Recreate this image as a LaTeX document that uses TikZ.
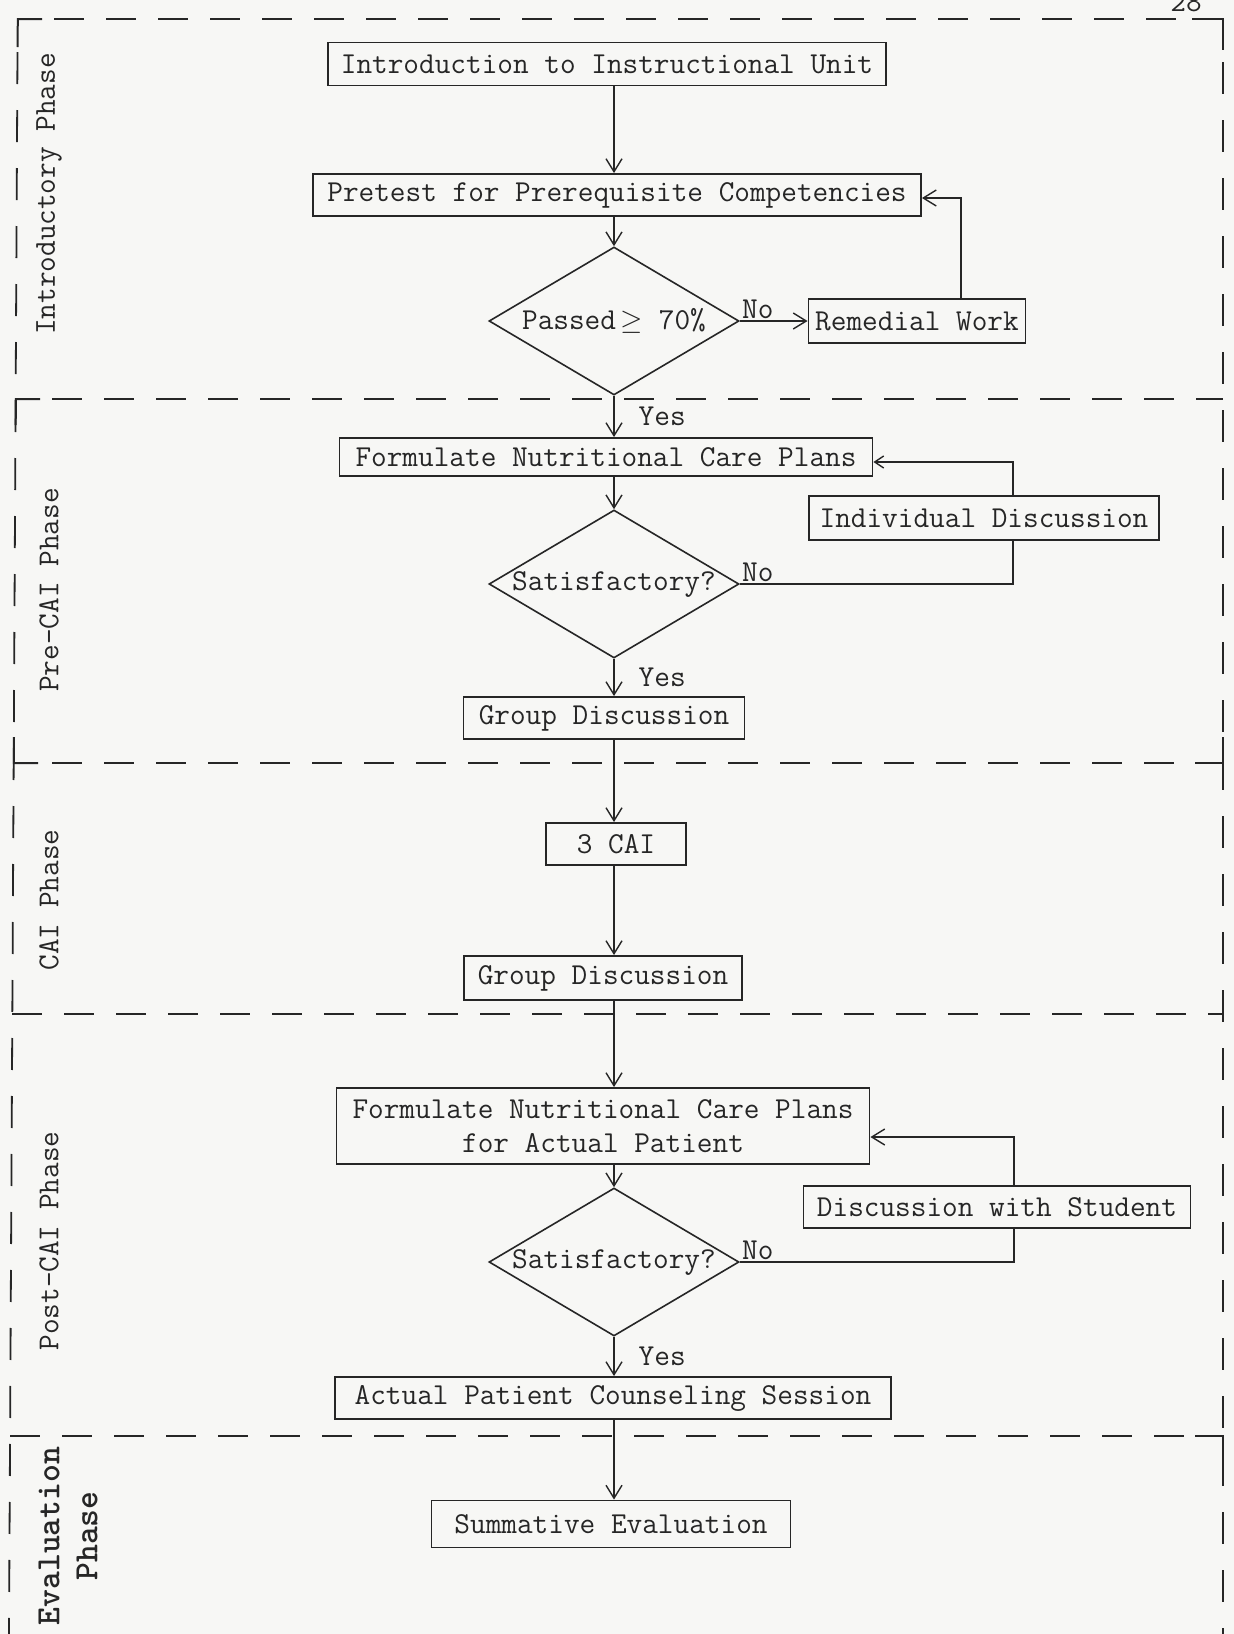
\documentclass[tikz,border=0pt]{standalone}
\usepackage{fontspec}
\usetikzlibrary{arrows.meta,shapes.geometric}
\definecolor{ink}{RGB}{38,38,38}
\definecolor{paper}{RGB}{247,247,245}
\begin{document}
\begin{tikzpicture}[x=0.5pt,y=-0.5pt,
 every node/.style={font=\fontsize{15.2}{17}\selectfont\ttfamily, text=ink},
 box/.style={draw=ink, line width=0.95pt, inner xsep=3pt, inner ysep=2pt, minimum height=21pt},
 dia/.style={draw=ink, line width=0.8pt, shape=diamond, aspect=1.7, inner sep=0pt, minimum width=125pt, minimum height=74pt},
 arr/.style={draw=ink, line width=0.7pt, -{Straight Barb[length=6.5pt,width=8pt]}},
 sarr/.style={draw=ink, line width=0.7pt, -{Straight Barb[length=4.5pt,width=6pt]}},
 conn/.style={draw=ink, line width=0.7pt},
 dsh/.style={draw=ink, line width=0.9pt, dash pattern=on 15pt off 11pt},
 vdsh/.style={draw=ink, line width=0.9pt, dash pattern=on 16pt off 13pt},
 crn/.style={draw=ink, line width=1pt},
 lbl/.style={inner sep=1pt},
 phase/.style={rotate=90}
]
\useasboundingbox (0,0) rectangle (1234,1634);
\fill[paper] (0,0) rectangle (1234,1634);

% frame (left edge slightly slanted, as in the scan)
\draw[vdsh] (17.5,52) -- (9,1634);
\draw[vdsh] (1223,62) -- (1223,1634);
\draw[dsh] (54,19) -- (1180,19);
\draw[dsh] (52,399) -- (1223,399);
\draw[dsh] (52,763) -- (1190,763);
\draw[dsh] (12.4,1014) -- (1223,1014);
\draw[dsh] (10.1,1436) -- (1190,1436);
\draw[crn] (17.6,47) -- (17.8,19) -- (42,19);
\draw[crn] (1192,19) -- (1223,19) -- (1223,50);
\draw[crn] (15.7,425) -- (15.9,399) -- (40,399);
\draw[crn] (14,737) -- (13.85,763) -- (38,763);
\draw[crn] (1195,763) -- (1223,763) -- (1223,737);
\draw[crn] (1195,1436) -- (1223,1436) -- (1223,1462);

\node (pg) at (1186,2) {28};

% phase labels
\node[phase] (ph1) at (49,194) {Introductory Phase};
\node[phase] (ph2) at (49,590) {Pre-CAI Phase};
\node[phase] (ph3) at (49,900) {CAI Phase};
\node[phase] (ph4) at (49,1241) {Post-CAI Phase};
\node[phase, align=center, font=\fontsize{17}{19}\selectfont\ttfamily\bfseries] (ph5) at (68,1536) {Evaluation\\Phase};

% axis and loop coordinates
\coordinate (ax) at (614,0);
\coordinate (lx1) at (961,0);
\coordinate (lx2) at (1013,0);
\coordinate (lx3) at (1014,0);

% nodes
\node[box, minimum width=279pt, minimum height=21.5pt] (intro) at (607,64) {Introduction to Instructional Unit};
\node[box, minimum width=304pt] (pretest) at (617,195) {Pretest for Prerequisite Competencies};
\node[dia] (dia1) at (614,321) {Passed$\,\geq$ 70\%};
\node[box, minimum width=108.5pt, minimum height=22pt] (rem) at (917,321) {Remedial Work};
\node[box, minimum width=266.5pt, minimum height=19pt] (F1) at (606,457) {Formulate Nutritional Care Plans};
\node[dia] (dia2) at (614,584) {Satisfactory?};
\node[box, minimum width=175pt, minimum height=22pt, fill=paper] (ID) at (984,518) {Individual Discussion};
\node[box, minimum width=140.5pt] (GD1) at (604,718) {Group Discussion};
\node[box, minimum width=70pt] (cai) at (616,844) {3 CAI};
\node[box, minimum width=139pt, minimum height=22pt] (GD2) at (603,978) {Group Discussion};
\node[box, minimum width=266.5pt, minimum height=38pt, align=center] (F2) at (603,1126) {Formulate Nutritional Care Plans\\for Actual Patient};
\node[dia] (dia3) at (614,1262) {Satisfactory?};
\node[box, minimum width=193.5pt, fill=paper] (DS) at (997,1207) {Discussion with Student};
\node[box, minimum width=278pt] (apcs) at (613,1398) {Actual Patient Counseling Session};
\node[box, minimum width=179.5pt, minimum height=23.5pt] (SE) at (611,1524) {Summative Evaluation};

% main flow
\draw[arr] (intro.south -| ax) -- (pretest.north -| ax);
\draw[arr] (pretest.south -| ax) -- (dia1.north);
\draw[arr] (dia1.south) -- node[lbl, anchor=west, xshift=11pt] (y1) {Yes} (F1.north -| dia1.south);
\draw[arr] (F1.south -| ax) -- (dia2.north);
\draw[arr] (dia2.south) -- node[lbl, anchor=west, xshift=11pt] (y2) {Yes} (GD1.north -| dia2.south);
\draw[arr] (GD1.south -| ax) -- (cai.north -| ax);
\draw[arr] (cai.south -| ax) -- (GD2.north -| ax);
\draw[arr] (GD2.south -| ax) -- (F2.north -| ax);
\draw[arr] (F2.south -| ax) -- (dia3.north);
\draw[arr] (dia3.south) -- node[lbl, anchor=west, xshift=11pt] (y3) {Yes} (apcs.north -| dia3.south);
\draw[arr] (apcs.south -| ax) -- (SE.north -| ax);

% loops
\draw[arr] (dia1.east) -- (rem.west);
\node[lbl, anchor=south west] (n1) at (dia1.east) {No};
\draw[arr] (rem.north -| lx1) |- ([yshift=-1.5pt]pretest.east);

\draw[conn] (dia2.east) -| (ID.south -| lx2);
\draw[sarr] (ID.north -| lx2) |- ([yshift=-2.5pt]F1.east);
\node[lbl, anchor=south west] (n2) at (dia2.east) {No};

\draw[conn] (dia3.east) -| (DS.south -| lx3);
\draw[arr] (DS.north -| lx3) |- ([yshift=-5.5pt]F2.east);
\node[lbl, anchor=south west] (n3) at (dia3.east) {No};
\end{tikzpicture}
\end{document}
